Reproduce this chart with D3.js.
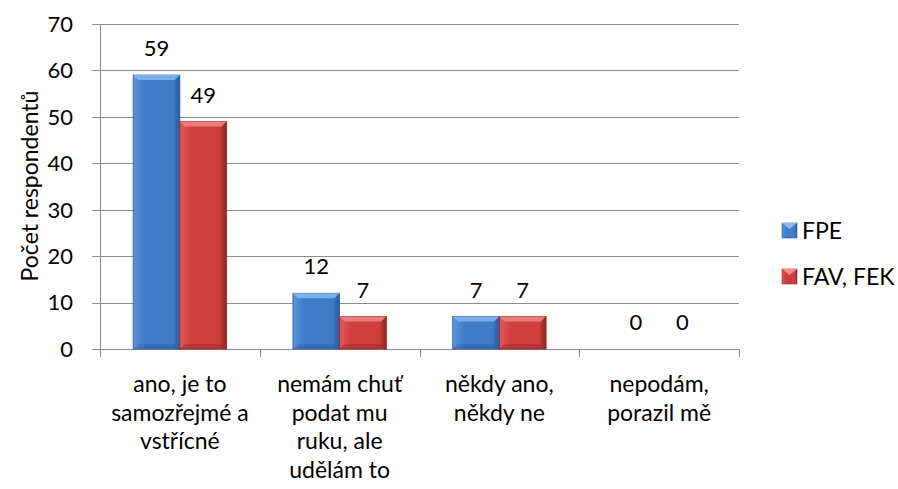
<!DOCTYPE html>
<html>
<head>
<meta charset="utf-8">
<script src="https://cdn.jsdelivr.net/npm/d3@7"></script>
<style>
  body { margin: 0; background: #fff; }
  text { font-family: Lato, "Noto Sans", sans-serif; fill: #000; }
</style>
</head>
<body>
<div id="chart"></div>
<script>
const categories = [
  ["ano, je to", "samozřejmé a", "vstřícné"],
  ["nemám chuť", "podat mu", "ruku, ale", "udělám to"],
  ["někdy ano,", "někdy ne"],
  ["nepodám,", "porazil mě"]
];
const seriesNames = ["FPE", "FAV, FEK"];
const fpeValues = [59, 12, 7, 0];
const favValues = [49, 7, 7, 0];
const yTicks = [0, 10, 20, 30, 40, 50, 60, 70];

const colors = {
  FPE: {light: "#5d95dc", mid: "#3e7bc8", dark: "#2b5d9e", top: "#8cbaf0"},
  "FAV, FEK": {light: "#e05858", mid: "#cf3e3e", dark: "#922828", top: "#f08c8c"}
};

const margin = {top: 24, right: 159, bottom: 140, left: 100};
const width = 898, height = 489;
const W = width - margin.left - margin.right;
const H = height - margin.top - margin.bottom;

const svg = d3.select("#chart").append("svg")
  .attr("width", width).attr("height", height);

const defs = svg.append("defs");
seriesNames.forEach((s, i) => {
  const c = colors[s];
  const gr = defs.append("linearGradient").attr("id", "grad" + i)
    .attr("x1", 0).attr("x2", 1).attr("y1", 0).attr("y2", 0);
  gr.append("stop").attr("offset", "0%").attr("stop-color", c.light);
  gr.append("stop").attr("offset", "25%").attr("stop-color", c.mid);
  gr.append("stop").attr("offset", "85%").attr("stop-color", c.mid);
  gr.append("stop").attr("offset", "100%").attr("stop-color", c.dark);
});

const g = svg.append("g").attr("transform", `translate(${margin.left},${margin.top})`);

const x0 = d3.scaleBand().domain(d3.range(categories.length)).range([0, W]).paddingInner(0).paddingOuter(0);
const x1 = d3.scaleBand().domain(seriesNames).range([0, x0.bandwidth()]).paddingInner(0).paddingOuter(0.71);
const y = d3.scaleLinear().domain([0, 70]).range([H, 0]);

// gridlines
g.append("g").selectAll("line").data(yTicks.slice(1)).join("line")
  .attr("x1", 0).attr("x2", W)
  .attr("y1", d => Math.round(y(d)) + 0.5).attr("y2", d => Math.round(y(d)) + 0.5)
  .attr("stroke", "#8c8c8c").attr("stroke-width", 1);

// y axis
g.append("line").attr("x1", 0.5).attr("x2", 0.5).attr("y1", 0).attr("y2", H)
  .attr("stroke", "#8c8c8c");
g.append("g").selectAll("line").data(yTicks).join("line")
  .attr("x1", -8).attr("x2", 0)
  .attr("y1", d => Math.round(y(d)) + 0.5).attr("y2", d => Math.round(y(d)) + 0.5)
  .attr("stroke", "#8c8c8c");
g.append("g").selectAll("text").data(yTicks).join("text")
  .attr("x", -27).attr("y", d => y(d))
  .attr("dy", "0.36em").attr("text-anchor", "end")
  .style("font-size", "22px").text(d => d);

// x axis
g.append("line").attr("x1", 0).attr("x2", W).attr("y1", H + 0.5).attr("y2", H + 0.5)
  .attr("stroke", "#8c8c8c");
g.append("g").selectAll("line").data(d3.range(categories.length + 1)).join("line")
  .attr("x1", d => Math.round(d * x0.bandwidth()) + 0.5)
  .attr("x2", d => Math.round(d * x0.bandwidth()) + 0.5)
  .attr("y1", H).attr("y2", H + 8)
  .attr("stroke", "#8c8c8c");

// category labels
categories.forEach((lines, i) => {
  const t = g.append("text")
    .attr("x", x0(i) + x0.bandwidth() / 2)
    .attr("y", H + 43)
    .attr("text-anchor", "middle")
    .style("font-size", "23px");
  lines.forEach((l, j) => {
    t.append("tspan").attr("x", x0(i) + x0.bandwidth() / 2)
      .attr("dy", j === 0 ? 0 : 28.7).text(l);
  });
});

// bars
const data = [];
categories.forEach((c, i) => {
  data.push({cat: i, s: "FPE", si: 0, v: fpeValues[i]});
  data.push({cat: i, s: "FAV, FEK", si: 1, v: favValues[i]});
});

const bars = g.append("g").selectAll("g").data(data).join("g");
bars.filter(d => d.v > 0).each(function(d) {
  const sel = d3.select(this);
  const bx = x0(d.cat) + x1(d.s), bw = x1.bandwidth();
  const by = y(d.v), bh = H - y(d.v);
  const c = colors[d.s];
  const bev = Math.min(5, bh / 2);
  sel.append("rect").attr("x", bx).attr("y", by).attr("width", bw).attr("height", bh)
    .attr("fill", `url(#grad${d.si})`).attr("stroke", c.dark).attr("stroke-width", 0.8);
  // top bevel
  sel.append("path")
    .attr("d", `M${bx},${by}L${bx + bw},${by}L${bx + bw - bev},${by + bev}L${bx + bev},${by + bev}Z`)
    .attr("fill", c.top).attr("opacity", 0.8);
  // right and bottom shading
  sel.append("path")
    .attr("d", `M${bx + bw},${by}L${bx + bw},${by + bh}L${bx + bw - bev},${by + bh - bev}L${bx + bw - bev},${by + bev}Z`)
    .attr("fill", c.dark).attr("opacity", 0.3);
  sel.append("path")
    .attr("d", `M${bx},${by + bh}L${bx + bw},${by + bh}L${bx + bw - bev},${by + bh - bev}L${bx + bev},${by + bh - bev}Z`)
    .attr("fill", c.dark).attr("opacity", 0.4);
});

// value labels
g.append("g").selectAll("text").data(data).join("text")
  .attr("x", d => x0(d.cat) + x1(d.s) + x1.bandwidth() / 2)
  .attr("y", d => y(d.v) - 19)
  .attr("text-anchor", "middle")
  .style("font-size", "22px").text(d => d.v);

// y title
svg.append("text")
  .attr("transform", `translate(30,186) rotate(-90)`)
  .attr("text-anchor", "middle").attr("dy", "0.35em")
  .style("font-size", "23px").text("Počet respondentů");

// legend
const legend = svg.append("g").attr("transform", "translate(782,223)");
seriesNames.forEach((s, i) => {
  const c = colors[s];
  const ly = i * 46;
  legend.append("rect").attr("x", 0).attr("y", ly).attr("width", 15).attr("height", 15)
    .attr("fill", `url(#grad${i})`).attr("stroke", c.dark).attr("stroke-width", 0.6);
  legend.append("path").attr("d", `M0,${ly}L15,${ly}L7.5,${ly + 6}Z`).attr("fill", c.top);
  legend.append("text").attr("x", 20).attr("y", ly + 8).attr("dy", "0.36em")
    .style("font-size", "23px").text(s);
});
</script>
</body>
</html>
